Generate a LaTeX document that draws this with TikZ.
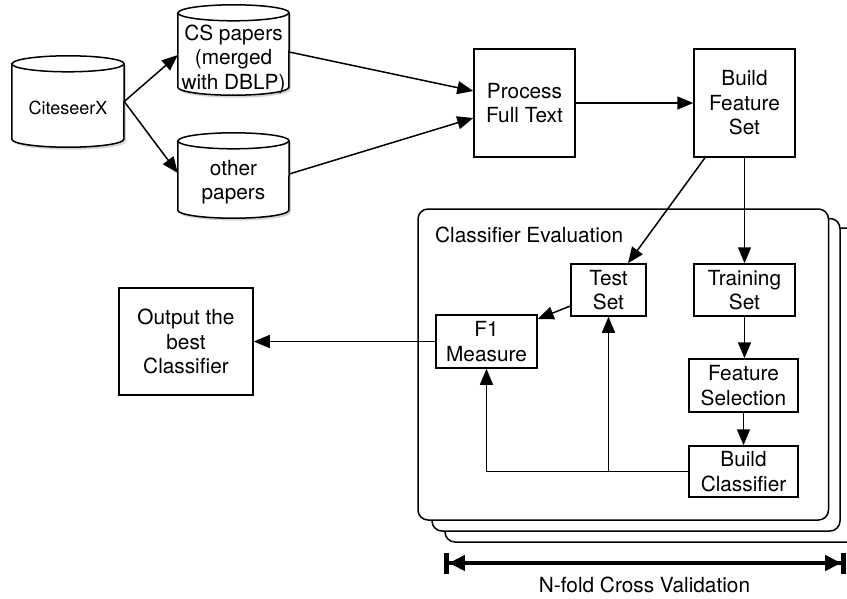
\documentclass[tikz,border=0pt]{standalone}
\usepackage{fontspec}
\setmainfont{TeX Gyre Heros}
\usetikzlibrary{arrows.meta,shadows,calc}
\tikzset{
  base/.style={font=\fontsize{20.8}{24.5}\selectfont, align=center, inner sep=0pt},
  box/.style={base, draw, line width=1.5pt, fill=white},
  drumbox/.style={inner sep=0pt},
  arr/.style={line width=1.5pt, -{Triangle[length=16pt,width=13pt]}},
  stack/.style={line width=1.5pt, fill=white, rounded corners=10pt},
}
\newcommand\drumshape[2]{%
  \draw[line width=1.5pt, fill=white, drop shadow={shadow xshift=2pt,shadow yshift=-2.5pt,opacity=0.35}]
    ([yshift=-8pt]#1.north west) -- ([yshift=8pt]#1.south west)
    arc[start angle=180,end angle=360,x radius=#2,y radius=8pt]
    -- ([yshift=-8pt]#1.north east)
    arc[start angle=0,end angle=180,x radius=#2,y radius=8pt] -- cycle;
  \draw[line width=1.5pt] ([yshift=-8pt]#1.north west)
    arc[start angle=180,end angle=360,x radius=#2,y radius=8pt];
}
\begin{document}
\begin{tikzpicture}[x=1pt,y=-1pt]
\useasboundingbox (0,0) rectangle (847,598);

% cylinders
\node[drumbox, minimum width=112pt, minimum height=91pt] (cit) at (68,101.5) {};
\node[drumbox, minimum width=111pt, minimum height=90pt] (cs) at (233.5,50) {};
\node[drumbox, minimum width=111pt, minimum height=85pt] (oth) at (233.5,175.5) {};
\drumshape{cit}{56pt}
\drumshape{cs}{55.5pt}
\drumshape{oth}{55.5pt}
\node[base, font=\fontsize{18}{21}\selectfont] (citT) at (68,108) {CiteseerX};
\node[base] (csT) at (233.5,59) {CS papers\\(merged\\with DBLP)};
\node[base] (othT) at (233.5,182) {other\\papers};

% top boxes
\node[box, minimum width=101pt, minimum height=108pt] (proc) at (524.5,103) {Process\\Full Text};
\node[box, minimum width=101pt, minimum height=108pt] (bfs) at (744.5,103) {Build\\Feature\\Set};

% stacked evaluation frames
\draw[stack] (445,228) rectangle (880,542);
\draw[stack] (432,218.5) rectangle (840,531);
\draw[stack] (418,209) rectangle (828.5,520);
\node[base, anchor=west] (ce) at (435,235) {Classifier Evaluation};

% inner boxes
\node[box, minimum width=75pt, minimum height=52pt] (test) at (608.5,290) {Test\\Set};
\node[box, minimum width=101pt, minimum height=52pt] (train) at (744.5,290) {Training\\Set};
\node[box, minimum width=101pt, minimum height=53pt] (f1) at (486.5,341.5) {F1\\Measure};
\node[box, minimum width=109pt, minimum height=53pt] (fsel) at (743.5,385.5) {Feature\\Selection};
\node[box, minimum width=109pt, minimum height=51pt] (bc) at (743.5,471.5) {Build\\Classifier};
\node[box, minimum width=134pt, minimum height=107pt] (out) at (186,341.5) {Output the\\best\\Classifier};

% connectors
\draw[arr] (cit.east) -- ([yshift=-5pt]cs.west);
\draw[arr] (cit.east) -- ([yshift=2.5pt]oth.west);
\draw[arr] ([yshift=-2pt]cs.east) -- ([yshift=12pt]proc.west);
\draw[arr] ([yshift=1.5pt]oth.east) -- ([yshift=-15pt]proc.west);
\draw[arr] (proc) -- (bfs);
\draw[arr] ([xshift=-39.5pt]bfs.south) -- ([xshift=19.5pt]test.north);
\draw[arr] (bfs.south) -- (train.north);
\draw[arr] (train.south) -- (train.south |- fsel.north);
\draw[arr] (fsel.south) -- (fsel.south |- bc.north);
\draw[arr] ([yshift=-16pt]test.west) -- ([yshift=22.5pt]f1.east);
\draw[arr] (bc.west) -| (test.south);
\draw[arr] (bc.west) -| (f1.south);
\draw[arr] (f1) -- (out);

% cross validation bar
\coordinate (bl) at (444,563);
\coordinate (br) at (846,563);
\draw[line width=4.8pt, {Bar[width=21pt]Triangle[length=16pt,width=15pt]}-{Triangle[length=16pt,width=15pt]Bar[width=21pt]}] (bl) -- (br);
\node[base] (nfold) at (644.5,585) {N-fold Cross Validation};
\end{tikzpicture}
\end{document}
